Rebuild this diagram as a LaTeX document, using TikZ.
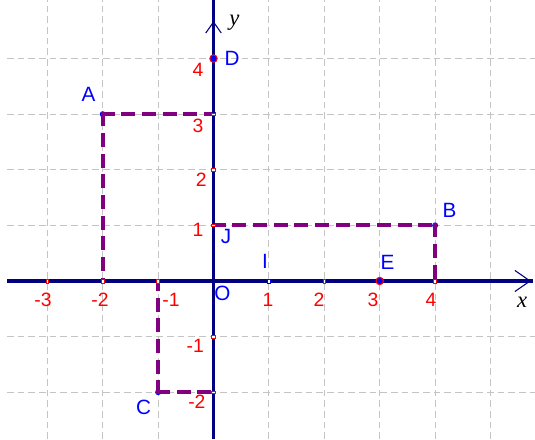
\documentclass[tikz,border=0pt]{standalone}
\usepackage{fontspec}
\setmainfont{Liberation Sans}
\newfontfamily\axfont{Liberation Serif}
\definecolor{gridgray}{HTML}{C4C4C4}
\definecolor{navy}{HTML}{000080}
\definecolor{projpurple}{HTML}{800080}
\definecolor{ptblue}{HTML}{0000FF}
\begin{document}
\begin{tikzpicture}[x=41.55pt,y=41.7pt,
  gridline/.style={draw=gridgray, line width=0.8pt, dash pattern=on 5pt off 3pt},
  axisline/.style={draw=navy, line width=2.6pt},
  chev/.style={draw=navy, line width=0.8pt},
  proj/.style={draw=projpurple, line width=3pt, line cap=rect, dash pattern=on 7.5pt off 8pt},
  pt/.style={circle, fill=ptblue, inner sep=0pt, minimum size=4.5pt},
  ringpt/.style={circle, draw=red, fill=ptblue, line width=0.8pt, inner sep=0pt, minimum size=5.5pt},
  ptlbl/.style={text=ptblue, font=\fontsize{15.5}{17}\selectfont, inner sep=0pt},
  numlbl/.style={text=red, font=\fontsize{14.5}{16}\selectfont, inner sep=0pt},
  axlbl/.style={text=black, font=\axfont\itshape\fontsize{17}{19}\selectfont, inner sep=0pt},
  xtick/.style={rectangle, draw=red, fill=white, line width=0.5pt, inner sep=0pt, minimum width=2pt, minimum height=3pt},
  ytick/.style={rectangle, draw=red, fill=white, line width=0.5pt, inner sep=0pt, minimum width=3pt, minimum height=2pt}
]
\useasboundingbox (-3.854,-2.842) rectangle (5.803,5.054);
\fill[white] (-3.854,-2.842) rectangle (5.803,5.054);

% grid
\foreach \i in {-3,...,5} \draw[gridline] (\i,-2.842) -- (\i,5.054);
\foreach \j in {-2,-1,1,2,3,4} \draw[gridline] (-3.727,\j) -- (5.803,\j);

% points under projections
\node[pt] (A) at (-2,3) {};
\node[pt] (B) at (4,1) {};
\node[pt] (C) at (-1,-2) {};

% projection feet
\coordinate (Ax) at (-2,0);
\coordinate (Ay) at (0,3);
\coordinate (Bx) at (4,0);
\coordinate (By) at (0,1);
\coordinate (Cx) at (-1,0);
\coordinate (Cy) at (0,-2);

\draw[proj] (A.center) -- (Ay);
\draw[proj] (A.center) -- (Ax);
\draw[proj] (By) -- (B.center);
\draw[proj] (B.center) -- (Bx);
\draw[proj] (C.center) -- (Cy);
\draw[proj] (C.center) -- (Cx);

% axes
\coordinate (xs) at (-3.727,0);
\coordinate (xe) at (5.767,0);
\coordinate (ys) at (0,-2.842);
\coordinate (ye) at (0,5.054);
\draw[axisline] (xs) -- (xe);
\draw[axisline] (ys) -- (ye);
\coordinate (xa) at (5.713,0);
\coordinate (xa1) at (5.44,0.19);
\coordinate (xa2) at (5.44,-0.19);
\draw[chev] (xa1) -- (xa) -- (xa2);
\coordinate (ya) at (0,4.658);
\coordinate (ya1) at (-0.14,4.46);
\coordinate (ya2) at (0.14,4.46);
\draw[chev] (ya1) -- (ya) -- (ya2);

% ticks
\foreach \i in {-3,-2,-1,2,4} \node[xtick] (tx\i) at (\i,0) {};
\foreach \j in {-2,-1,1,2,3} \node[ytick] (ty\j) at (0,\j) {};
\node[xtick, draw=ptblue] (I) at (1,0) {};
\node[ringpt] (E) at (3,0) {};
\node[ringpt] (D) at (0,4) {};
\coordinate (O) at (0,0);
\coordinate (J) at (0,1);

% point labels
\node[ptlbl] (lA) at (-2.256,3.354) {A};
\node[ptlbl] (lB) at (4.260,1.277) {B};
\node[ptlbl] (lC) at (-1.264,-2.275) {C};
\node[ptlbl] (lD) at (0.334,4.011) {D};
\node[ptlbl] (lE) at (3.141,0.333) {E};
\node[ptlbl] (lI) at (0.930,0.351) {I};
\node[ptlbl] (lJ) at (0.226,0.800) {J};
\node[ptlbl] (lO) at (0.162,-0.216) {O};

% number labels
\node[numlbl] (nxm3) at (-3.078,-0.342) {-3};
\node[numlbl] (nxm2) at (-2.049,-0.342) {-2};
\node[numlbl] (nxm1) at (-0.767,-0.342) {-1};
\node[numlbl] (nx1) at (0.984,-0.342) {1};
\node[numlbl] (nx2) at (1.904,-0.342) {2};
\node[numlbl] (nx3) at (2.879,-0.342) {3};
\node[numlbl] (nx4) at (3.926,-0.342) {4};
\node[numlbl] (ny4) at (-0.28,3.795) {4};
\node[numlbl] (ny3) at (-0.28,2.788) {3};
\node[numlbl] (ny2) at (-0.22,1.817) {2};
\node[numlbl] (ny1) at (-0.28,0.917) {1};
\node[numlbl] (nym1) at (-0.33,-1.169) {-1};
\node[numlbl] (nym2) at (-0.30,-2.176) {-2};

% axis names
\node[axlbl] (lx) at (5.569,-0.378) {x};
\node[axlbl] (ly) at (0.379,4.649) {y};
\end{tikzpicture}
\end{document}
